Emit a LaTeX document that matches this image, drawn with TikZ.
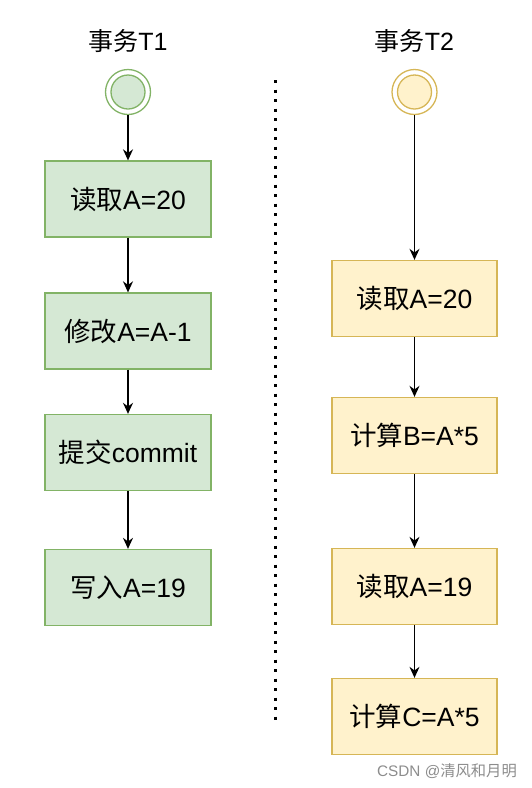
\documentclass[tikz,border=0pt]{standalone}
\usepackage{fontspec}
\setmainfont{Liberation Sans}
\newfontfamily\cjk{Noto Sans CJK SC}
\usetikzlibrary{arrows.meta}
\definecolor{gfill}{HTML}{D5E8D4}
\definecolor{gline}{HTML}{82B366}
\definecolor{yfill}{HTML}{FFF2CC}
\definecolor{yline}{HTML}{D6B656}
\tikzset{
  gbox/.style={draw=gline, fill=gfill, line width=1.3pt, minimum width=166pt, minimum height=76pt, inner sep=0pt, font=\fontsize{26.5}{30}\selectfont},
  ybox/.style={draw=yline, fill=yfill, line width=1.3pt, minimum width=165pt, minimum height=76pt, inner sep=0pt, font=\fontsize{26.5}{30}\selectfont},
  title/.style={font=\fontsize{25}{29}\selectfont, inner sep=0pt},
  arr/.style={line width=1.4pt, -{Stealth[length=11pt,width=10pt]}},
}
\begin{document}
\begin{tikzpicture}[x=1pt,y=-1pt]
\useasboundingbox (0,0) rectangle (531,788);
% T1 column
\node[title] (t1) at (128,41) {{\cjk 事务}T1};
\node[circle, draw=gline, fill=white, line width=1.3pt, minimum size=45pt, inner sep=0pt] (s1) at (128,92) {};
\node[circle, draw=gline, fill=gfill, line width=1.3pt, minimum size=34pt, inner sep=0pt] at (128,92) {};
\node[gbox] (a1) at (128,199) {{\cjk 读取}A=20};
\node[gbox] (a2) at (128,331) {{\cjk 修改}A=A-1};
\node[gbox] (a3) at (128,452.5) {{\cjk 提交}commit};
\node[gbox] (a4) at (128,587.5) {{\cjk 写入}A=19};
\draw[arr] (s1) -- (a1);
\draw[arr] (a1) -- (a2);
\draw[arr] (a2) -- (a3);
\draw[arr] (a3) -- (a4);
% T2 column
\node[title] (t2) at (414.5,41) {{\cjk 事务}T2};
\node[circle, draw=yline, fill=white, line width=1.3pt, minimum size=45pt, inner sep=0pt] (s2) at (414.5,92) {};
\node[circle, draw=yline, fill=yfill, line width=1.3pt, minimum size=34pt, inner sep=0pt] at (414.5,92) {};
\node[ybox] (b1) at (414.5,298.5) {{\cjk 读取}A=20};
\node[ybox] (b2) at (414.5,435.5) {{\cjk 计算}B=A*5};
\node[ybox] (b3) at (414.5,586.5) {{\cjk 读取}A=19};
\node[ybox] (b4) at (414.5,716.5) {{\cjk 计算}C=A*5};
\draw[arr] (s2) -- (b1);
\draw[arr] (b1) -- (b2);
\draw[arr] (b2) -- (b3);
\draw[arr] (b3) -- (b4);
% dotted separator
\coordinate (d1) at (275.5,80);
\coordinate (d2) at (275.5,720);
\draw[line width=3pt, dash pattern=on 3pt off 6.5pt] (d1) -- (d2);
% watermark
\node[font=\fontsize{15.3}{18}\selectfont, text=black!45, anchor=east, inner sep=0pt] (wm) at (517,771) {CSDN @{\cjk 清风和月明}};
\end{tikzpicture}
\end{document}
